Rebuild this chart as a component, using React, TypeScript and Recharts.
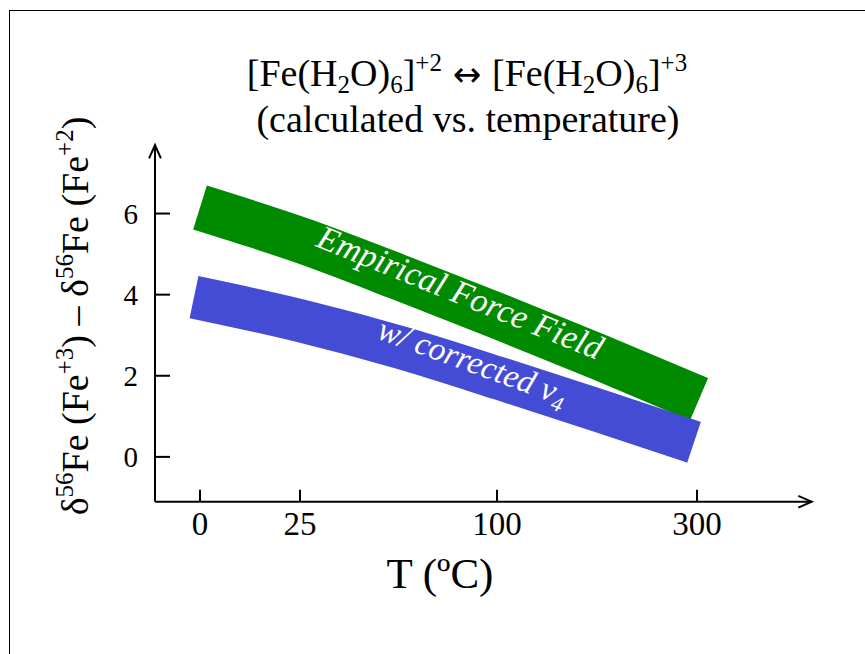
import React from 'react';
import { LineChart, Line, XAxis, YAxis } from 'recharts';

// x positions on the (non-linear) temperature axis, in axis units
const xTickPositions = [0, 1, 2.97, 4.97];
const xTickLabels = ['0', '25', '100', '300'];
const yTicks = [0, 2, 4, 6];

// centre lines of the two calculated bands
const empiricalX = [0, 1, 2, 3, 4, 4.99];
const empiricalY = [6.15, 5.35, 4.42, 3.45, 2.45, 1.42];
const correctedX = [-0.06, 1, 2, 3, 4, 4.94];
const correctedY = [3.94, 3.36, 2.7, 1.93, 1.13, 0.36];

const empiricalData = empiricalX.map((x, i) => ({ x, y: empiricalY[i] }));
const correctedData = correctedX.map((x, i) => ({ x, y: correctedY[i] }));

const W = 865;
const H = 654;
const PLOT_LEFT = 155;
const PLOT_TOP = 145;
const PLOT_RIGHT = 811.7;
const PLOT_BOTTOM = 501.7;
const Y_AXIS_W = 60;
const X_AXIS_H = 40;

const SERIF = "'Liberation Serif', 'Times New Roman', Times, serif";

const XTick = (props: any) => {
  const { x, y, payload } = props;
  const idx = xTickPositions.indexOf(payload.value);
  return (
    <g>
      <line x1={x} x2={x} y1={y} y2={y - 12} stroke="#000" strokeWidth={2} />
      <text x={x} y={y + 33} textAnchor="middle" fontSize={33} fontFamily={SERIF} fill="#000">
        {idx >= 0 ? xTickLabels[idx] : payload.value}
      </text>
    </g>
  );
};

const YTick = (props: any) => {
  const { x, y, payload } = props;
  return (
    <g>
      <line x1={x} x2={x + 15} y1={y} y2={y} stroke="#000" strokeWidth={2} />
      <text x={x - 17} y={y + 10} textAnchor="end" fontSize={29} fontFamily={SERIF} fill="#000">
        {payload.value}
      </text>
    </g>
  );
};

export default function App() {
  return (
    <div style={{ position: 'fixed', left: 0, top: 0, width: W, height: H, overflow: 'hidden', background: '#fff' }}>
      <div
        style={{
          position: 'absolute',
          left: 9,
          top: 9.5,
          width: 1000,
          height: 1000,
          borderLeft: '1.5px solid #000',
          borderTop: '1.5px solid #000',
        }}
      />
      <div style={{ position: 'absolute', left: 0, top: 0 }}>
        <LineChart
          width={W}
          height={H}
          margin={{
            top: PLOT_TOP,
            right: W - PLOT_RIGHT,
            bottom: H - PLOT_BOTTOM - X_AXIS_H,
            left: PLOT_LEFT - Y_AXIS_W,
          }}
        >
          <defs>
            <marker
              id="axisArrow"
              viewBox="-16 -8 18 16"
              refX={0}
              refY={0}
              markerWidth={18}
              markerHeight={16}
              markerUnits="userSpaceOnUse"
              orient="auto-start-reverse"
              style={{ overflow: 'visible' }}
            >
              <path d="M -13.4 -5.9 L 0 0 L -13.4 5.9" fill="none" stroke="#000" strokeWidth={2} />
            </marker>
          </defs>
          <XAxis
            type="number"
            dataKey="x"
            domain={[-0.45, 6.117]}
            ticks={xTickPositions}
            allowDataOverflow
            height={X_AXIS_H}
            tickSize={0}
            tickMargin={0}
            tickLine={false}
            tick={<XTick />}
            interval={0}
            axisLine={{ stroke: '#000', strokeWidth: 2, markerEnd: 'url(#axisArrow)' } as any}
          />
          <YAxis
            type="number"
            domain={[-1.105, 7.69]}
            ticks={yTicks}
            allowDataOverflow
            width={Y_AXIS_W}
            tickSize={0}
            tickMargin={0}
            tickLine={false}
            tick={<YTick />}
            interval={0}
            axisLine={{ stroke: '#000', strokeWidth: 2, markerStart: 'url(#axisArrow)' } as any}
          />
          <Line
            data={empiricalData}
            dataKey="y"
            type="monotone"
            stroke="#008a00"
            strokeWidth={46}
            strokeLinecap="butt"
            strokeLinejoin="round"
            dot={false}
            activeDot={false}
            isAnimationActive={false}
          />
          <Line
            data={correctedData}
            dataKey="y"
            type="monotone"
            stroke="#444cd5"
            strokeWidth={43}
            strokeLinecap="butt"
            strokeLinejoin="round"
            dot={false}
            activeDot={false}
            isAnimationActive={false}
          />
          <text x={467} y={86} textAnchor="middle" fontSize={38} fontFamily={SERIF} fill="#000">
            [Fe(H
            <tspan fontSize={25} dy={7}>2</tspan>
            <tspan dy={-7}>O)</tspan>
            <tspan fontSize={25} dy={7}>6</tspan>
            <tspan dy={-7}>]</tspan>
            <tspan fontSize={25} dy={-15}>+2</tspan>
            <tspan dy={15} fontFamily="'DejaVu Sans', sans-serif" fontSize={34}> ↔ </tspan>
            <tspan>[Fe(H</tspan>
            <tspan fontSize={25} dy={7}>2</tspan>
            <tspan dy={-7}>O)</tspan>
            <tspan fontSize={25} dy={7}>6</tspan>
            <tspan dy={-7}>]</tspan>
            <tspan fontSize={25} dy={-15}>+3</tspan>
          </text>
          <text x={468} y={132} textAnchor="middle" fontSize={38} fontFamily={SERIF} fill="#000">
            (calculated vs. temperature)
          </text>
          <text
            transform="rotate(-90)"
            x={-316}
            y={88}
            textAnchor="middle"
            fontSize={38}
            fontFamily={SERIF}
            fill="#000"
          >
            δ<tspan fontSize={25} dy={-15}>56</tspan>
            <tspan dy={15}>Fe (Fe</tspan>
            <tspan fontSize={25} dy={-15}>+3</tspan>
            <tspan dy={15}>) – δ</tspan>
            <tspan fontSize={25} dy={-15}>56</tspan>
            <tspan dy={15}>Fe (Fe</tspan>
            <tspan fontSize={25} dy={-15}>+2</tspan>
            <tspan dy={15}>)</tspan>
          </text>
          <text x={440} y={588} textAnchor="middle" fontSize={43} fontFamily={SERIF} fill="#000">
            T (ºC)
          </text>
        </LineChart>
      </div>
      <svg
        width={W}
        height={H}
        style={{ position: 'absolute', left: 0, top: 0, pointerEvents: 'none' }}
      >
        <text
          transform="translate(456,303) rotate(22)"
          textAnchor="middle"
          fontSize={34}
          fontStyle="italic"
          fontFamily={SERIF}
          fill="#fff"
        >
          Empirical Force Field
        </text>
        <text
          transform="translate(469,372) rotate(20)"
          textAnchor="middle"
          fontSize={33}
          fontStyle="italic"
          fontFamily={SERIF}
          fill="#fff"
        >
          w/ corrected ν<tspan fontSize={22} dy={7}>4</tspan>
        </text>
      </svg>
    </div>
  );
}
